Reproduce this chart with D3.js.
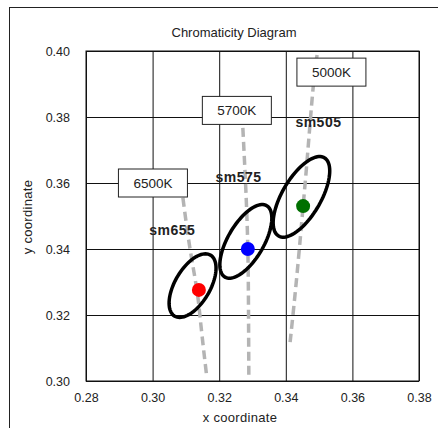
<!DOCTYPE html>
<html>
<head>
<meta charset="utf-8">
<script src="https://cdn.jsdelivr.net/npm/d3@7"></script>
<style>
  html, body { margin: 0; padding: 0; background: #fff; }
  svg { display: block; font-family: "Liberation Sans", Arial, sans-serif; }
</style>
</head>
<body>
<svg id="chart" width="438" height="428"></svg>
<script>
// ---- data ----
const xTicks = [0.28, 0.30, 0.32, 0.34, 0.36, 0.38];
const yTicks = [0.30, 0.32, 0.34, 0.36, 0.38, 0.40];

const pointNames = ["sm655", "sm575", "sm505"];
const pointX = [0.3139, 0.3286, 0.3452];
const pointY = [0.3276, 0.3400, 0.3530];
const pointColors = ["#ff0000", "#0000ff", "#007000"];

// ellipses: centre, semi-major, semi-minor (data units), tilt (deg)
const ellipseCX = [0.3120, 0.3280, 0.3447];
const ellipseCY = [0.3289, 0.3423, 0.3558];
const ellipseA = [0.0107, 0.0125, 0.0137];
const ellipseB = [0.0053, 0.0054, 0.0058];
const ellipseAngle = [60, 60, 60];

// isotemperature lines
const cctNames = ["6500K", "5700K", "5000K"];
const cct6500 = [[0.3091, 0.3555], [0.3112, 0.3403], [0.3133, 0.3276], [0.3145, 0.3170], [0.3163, 0.3009]];
const cct5700 = [[0.3271, 0.3767], [0.3280, 0.3579], [0.3286, 0.3400], [0.3288, 0.3215], [0.3289, 0.3015]];
const cct5000 = [[0.3494, 0.3988], [0.3482, 0.3888], [0.3464, 0.3670], [0.3452, 0.3530], [0.3434, 0.3327], [0.3413, 0.3118]];
const cctLines = [cct6500, cct5700, cct5000];
// label box positions (data units, box centre)
const cctBoxX = [0.3001, 0.3253, 0.3537];
const cctBoxY = [0.3600, 0.3820, 0.3936];
// sm label positions (data units, text centre/baseline)
const smLabelX = [0.3059, 0.3258, 0.3498];
const smLabelY = [0.3442, 0.3603, 0.3770];

// ---- layout ----
const svg = d3.select("#chart");
const M = { left: 86, top: 51, right: 419, bottom: 381 };
const x = d3.scaleLinear().domain([0.28, 0.38]).range([M.left, M.right]);
const y = d3.scaleLinear().domain([0.30, 0.40]).range([M.bottom, M.top]);
const W = M.right - M.left, H = M.bottom - M.top;
const FONT = "'Liberation Sans', Arial, sans-serif";

// outer frame
svg.append("rect").attr("x", 9.5).attr("y", 7.5).attr("width", 440).attr("height", 440)
  .attr("fill", "none").attr("stroke", "#222").attr("stroke-width", 1);

// title
svg.append("text").attr("x", 234).attr("y", 37).attr("text-anchor", "middle")
  .attr("font-size", 13).attr("fill", "#222").text("Chromaticity Diagram");

// grid via axes
const gx = svg.append("g").attr("transform", `translate(0,${M.bottom})`)
  .call(d3.axisBottom(x).tickValues(xTicks).tickSize(-H).tickPadding(12).tickFormat(d3.format(".2f")));
const gy = svg.append("g").attr("transform", `translate(${M.left},0)`)
  .call(d3.axisLeft(y).tickValues(yTicks).tickSize(-W).tickPadding(16).tickFormat(d3.format(".2f")));
[gx, gy].forEach(g => {
  g.select(".domain").remove();
  g.selectAll(".tick line").attr("stroke", "#111").attr("stroke-width", 1);
  g.selectAll(".tick text").attr("font-size", 12.5).attr("fill", "#222").attr("font-family", FONT);
});
svg.append("rect").attr("x", M.left).attr("y", M.top).attr("width", W).attr("height", H)
  .attr("fill", "none").attr("stroke", "#111").attr("stroke-width", 1);

// axis titles
svg.append("text").attr("x", 240).attr("y", 422).attr("text-anchor", "middle")
  .attr("font-size", 13).attr("letter-spacing", 0.3).attr("fill", "#222").text("x coordinate");
svg.append("text").attr("transform", "translate(32,217) rotate(-90)").attr("text-anchor", "middle")
  .attr("font-size", 13).attr("letter-spacing", 0.3).attr("fill", "#222").text("y coordinate");

// dashed isotemperature lines
const line = d3.line().x(d => x(d[0])).y(d => y(d[1])).curve(d3.curveNatural);
svg.append("g").selectAll("path").data(cctLines).join("path")
  .attr("d", line).attr("fill", "none").attr("stroke", "#b4b4b4")
  .attr("stroke-width", 3.5).attr("stroke-dasharray", "9,5");

// label boxes
const boxW = 69, boxH = 28;
const boxes = svg.append("g").selectAll("g").data(cctNames).join("g")
  .attr("transform", (d, i) => `translate(${x(cctBoxX[i])},${y(cctBoxY[i])})`);
boxes.append("rect").attr("x", -boxW / 2).attr("y", -boxH / 2).attr("width", boxW).attr("height", boxH)
  .attr("fill", "#fff").attr("stroke", "#222").attr("stroke-width", 1);
boxes.append("text").attr("text-anchor", "middle").attr("dy", "0.36em")
  .attr("font-size", 13.5).attr("fill", "#222").text(d => d);

// ellipses
const ellPath = i => {
  const th = ellipseAngle[i] * Math.PI / 180;
  const pts = d3.range(0, 361, 4).map(t => {
    const r = t * Math.PI / 180;
    const ex = ellipseA[i] * Math.cos(r), ey = ellipseB[i] * Math.sin(r);
    return [ellipseCX[i] + ex * Math.cos(th) - ey * Math.sin(th),
            ellipseCY[i] + ex * Math.sin(th) + ey * Math.cos(th)];
  });
  return d3.line().x(d => x(d[0])).y(d => y(d[1])).curve(d3.curveLinearClosed)(pts);
};
svg.append("g").selectAll("path").data(pointNames).join("path")
  .attr("d", (d, i) => ellPath(i)).attr("fill", "none").attr("stroke", "#000").attr("stroke-width", 3.5);

// points
svg.append("g").selectAll("circle").data(pointNames).join("circle")
  .attr("cx", (d, i) => x(pointX[i])).attr("cy", (d, i) => y(pointY[i])).attr("r", 7)
  .attr("fill", (d, i) => pointColors[i]);

// sm labels
svg.append("g").selectAll("text").data(pointNames).join("text")
  .attr("x", (d, i) => x(smLabelX[i])).attr("y", (d, i) => y(smLabelY[i]))
  .attr("text-anchor", "middle").attr("font-size", 14).attr("font-weight", "bold")
  .attr("letter-spacing", 0.5).attr("fill", "#222").text(d => d);
</script>
</body>
</html>
